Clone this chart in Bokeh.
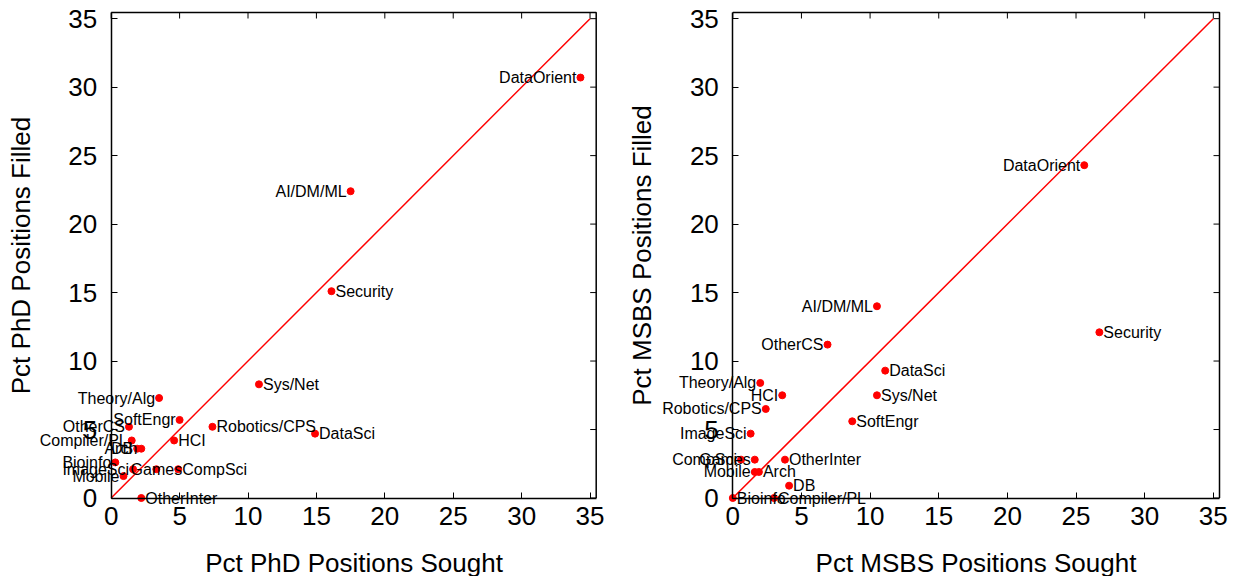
from bokeh.plotting import figure
from bokeh.layouts import row
from bokeh.models import Range1d, FixedTicker
from bokeh.core.properties import value
from bokeh.embed import file_html
from bokeh.resources import INLINE

categories = ["DataOrient", "AI/DM/ML", "Security", "Sys/Net", "DataSci", "Robotics/CPS",
              "Theory/Alg", "SoftEngr", "OtherCS", "Compiler/PL", "HCI", "Arch", "DB",
              "Bioinfo", "ImageSci", "Games", "CompSci", "Mobile", "OtherInter"]
phd_sought = [34.3, 17.5, 16.1, 10.8, 14.9, 7.4, 3.5, 5.0, 1.3, 1.5, 4.6, 2.2, 1.9,
              0.3, 1.6, 3.3, 4.9, 0.9, 2.2]
phd_filled = [30.7, 22.4, 15.1, 8.3, 4.7, 5.2, 7.3, 5.7, 5.2, 4.2, 4.2, 3.6, 3.6,
              2.6, 2.1, 2.1, 2.1, 1.6, 0.0]
msbs_sought = [25.6, 10.5, 26.7, 10.5, 11.1, 2.4, 2.0, 8.7, 6.9, 3.0, 3.6, 1.9, 4.1,
               0.0, 1.3, 1.6, 0.6, 1.6, 3.8]
msbs_filled = [24.3, 14.0, 12.1, 7.5, 9.3, 6.5, 8.4, 5.6, 11.2, 0.0, 7.5, 1.9, 0.9,
               0.0, 4.7, 2.8, 2.8, 1.9, 2.8]
# label placement relative to each point
phd_align = ["right", "right", "left", "left", "left", "left", "right", "right", "right",
             "right", "left", "right", "right", "right", "right", "center", "left", "right", "left"]
msbs_align = ["right", "right", "left", "left", "left", "right", "right", "left", "right",
              "left", "right", "left", "left", "left", "right", "right", "right", "right", "left"]
diag = [0, 35]
ticks = [0, 5, 10, 15, 20, 25, 30, 35]

FONT = "Liberation Sans"
AXMAX = 35.45
H = 576
TOP = 12.0      # canvas y of axis top
BOTTOM = 497.5  # canvas y of axis bottom


def make(xs, ys, aligns, xlabel, ylabel, w, c0, c1):
    sx = (c1 - c0) / AXMAX
    sy = (BOTTOM - TOP) / AXMAX
    p = figure(width=w, height=H, output_backend="svg", toolbar_location=None,
               x_range=Range1d(-c0 / sx, (w - c0) / sx),
               y_range=Range1d(-(H - BOTTOM) / sy, AXMAX + TOP / sy),
               min_border=0, background_fill_color="white",
               border_fill_color="white", outline_line_color=None)
    p.xgrid.visible = False
    p.ygrid.visible = False
    for ax in (p.xaxis[0], p.yaxis[0]):
        ax.fixed_location = 0
        ax.bounds = (0, AXMAX)
        ax.ticker = FixedTicker(ticks=ticks)
        ax.major_tick_in = 6
        ax.major_tick_out = 0
        ax.minor_tick_line_color = None
        ax.axis_line_width = 1.5
        ax.axis_line_color = "black"
        ax.major_tick_line_width = 1
        ax.major_tick_line_color = "black"
        ax.major_label_text_font = FONT
        ax.major_label_text_font_size = "26px"
        ax.major_label_text_color = "black"
        ax.axis_label_text_font = FONT
        ax.axis_label_text_font_size = "26px"
        ax.axis_label_text_font_style = "normal"
        ax.axis_label_text_color = "black"
    p.xaxis.axis_label = xlabel
    p.yaxis.axis_label = ylabel
    p.xaxis.major_label_standoff = 9
    p.xaxis.axis_label_standoff = 19
    p.yaxis.major_label_standoff = 14
    p.yaxis.axis_label_standoff = 30

    # top / right border with mirrored ticks
    n = len(ticks)
    tly = 6 / sy
    tlx = 6 / sx
    p.line([0, AXMAX, AXMAX], [AXMAX, AXMAX, 0], color="black", line_width=1.5)
    p.segment(x0=ticks, y0=[AXMAX] * n, x1=ticks, y1=[AXMAX - tly] * n,
              color="black", line_width=1)
    p.segment(x0=[AXMAX] * n, y0=ticks, x1=[AXMAX - tlx] * n, y1=ticks,
              color="black", line_width=1)

    p.line(diag, diag, color="#ff0000", line_width=1.5)
    p.scatter(xs, ys, size=7, color="#ff0000")

    offs = {"left": 4, "right": -4, "center": 0}
    for al in ("left", "right", "center"):
        idx = [i for i, a in enumerate(aligns) if a == al]
        if not idx:
            continue
        p.text(x=[xs[i] for i in idx], y=[ys[i] for i in idx],
               text=[categories[i] for i in idx], x_offset=offs[al],
               text_align=al, text_baseline="middle", text_font=value(FONT),
               text_font_size="16px", text_color="black")
    return p


p1 = make(phd_sought, phd_filled, phd_align, "Pct PhD Positions Sought",
          "Pct PhD Positions Filled", 620, 110.7, 595.7)
p2 = make(msbs_sought, msbs_filled, msbs_align, "Pct MSBS Positions Sought",
          "Pct MSBS Positions Filled", 616, 112.3, 599.0)

layout = row(p1, p2, spacing=0)
open("out.html", "w").write(file_html(layout, INLINE))
